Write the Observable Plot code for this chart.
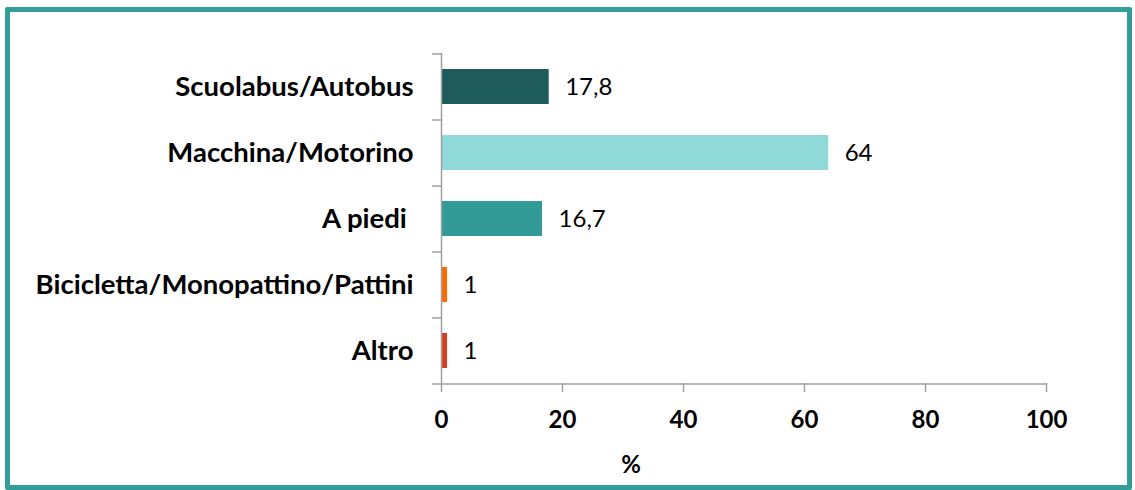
<!DOCTYPE html>
<html><head><meta charset="utf-8">
<script src="https://cdn.jsdelivr.net/npm/d3@7"></script>
<script src="https://cdn.jsdelivr.net/npm/@observablehq/plot@0.6"></script>
<style>
html,body{margin:0;padding:0;background:#fff;}
#wrap{position:relative;width:1135px;height:490px;overflow:hidden;}
#border{position:absolute;left:5px;top:7px;width:1127px;height:483px;border:5px solid #339E99;border-radius:2px;box-sizing:border-box;}
#chart{position:absolute;left:0;top:0;}
</style></head>
<body><div id="wrap"><div id="border"></div><div id="chart"></div></div>
<script>
const categories = ["Scuolabus/Autobus", "Macchina/Motorino", "A piedi\u00A0", "Bicicletta/Monopattino/Pattini", "Altro"];
const values = [17.8, 64, 16.7, 1, 1];
const colors = ["#1E5C5B", "#8FDAD8", "#339B97", "#FF6A00", "#D53F1F"];
const xTicks = [0, 20, 40, 60, 80, 100];
const xLabel = "%";

const data = categories.map((c, i) => ({cat: c, value: values[i], color: colors[i]}));
const fmt = v => String(v).replace(".", ",");
const font = "Lato, 'Open Sans', sans-serif";
const axisColor = "#A0A0A0";

const plot = Plot.plot({
  width: 1135, height: 490,
  marginLeft: 441, marginRight: 89, marginTop: 53, marginBottom: 107,
  style: {fontFamily: font, background: "transparent", overflow: "visible"},
  x: {domain: [0, 100], axis: null},
  y: {domain: categories, paddingInner: 0.47, paddingOuter: 0.235, axis: null},
  marks: [
    Plot.barX(data, {y: "cat", x: "value", fill: d => d.color}),
    Plot.text(data, {y: "cat", x: "value", text: d => fmt(d.value), textAnchor: "start", dx: 16, fontSize: 24, fill: "#000"}),
    // y boundary ticks
    Plot.ruleY(data, {y: "cat", x1: -1.5, x2: 0, dy: -33, stroke: axisColor, strokeWidth: 1.5}),
    Plot.ruleY([categories[categories.length - 1]], {y: d => d, x1: -1.5, x2: 100, dy: 33, stroke: axisColor, strokeWidth: 1.5}),
    Plot.ruleX([0], {stroke: axisColor, strokeWidth: 1.5}),
    Plot.axisX(xTicks, {tickSize: 9, tickPadding: 18, stroke: axisColor, strokeWidth: 1.5, fontSize: 24, fontWeight: "bold", fill: "#000", label: null}),
    Plot.axisY({tickSize: 0, tickPadding: 28, fontSize: 27.5, fontWeight: "bold", fill: "#000", label: null}),
    Plot.text([xLabel], {frameAnchor: "bottom", dx: -113, dy: 89, fontSize: 24, fontWeight: "bold", fill: "#000"})
  ]
});
document.getElementById("chart").appendChild(plot);
</script></body></html>
